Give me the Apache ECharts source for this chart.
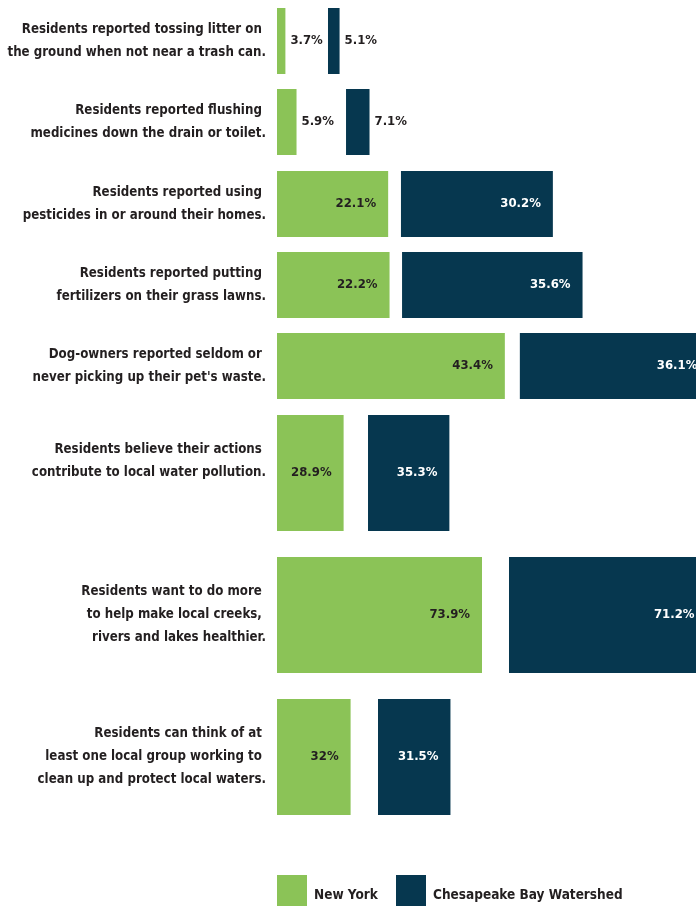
<!DOCTYPE html>
<html>
<head>
<meta charset="utf-8">
<script src="https://cdn.jsdelivr.net/npm/echarts@6/dist/echarts.min.js"></script>
<style>
  html, body { margin: 0; padding: 0; background: #ffffff; }
  #chart { width: 696px; height: 906px; }
</style>
</head>
<body>
<div id="chart"></div>
<script>
// ---- data ----
const categories = [
  'Residents reported tossing litter on \nthe ground when not near a trash can.',
  'Residents reported flushing \nmedicines down the drain or toilet.',
  'Residents reported using \npesticides in or around their homes.',
  'Residents reported putting \nfertilizers on their grass lawns.',
  'Dog-owners reported seldom or \nnever picking up their pet\'s waste.',
  'Residents believe their actions \ncontribute to local water pollution.\n ',
  'Residents want to do more \nto help make local creeks, \nrivers and lakes healthier.',
  'Residents can think of at \nleast one local group working to \nclean up and protect local waters.'
];
const newYork = [3.7, 5.9, 22.1, 22.2, 43.4, 28.9, 73.9, 32];
const chesapeake = [5.1, 7.1, 30.2, 35.6, 36.1, 35.3, 71.2, 31.5];
const seriesNames = ['New York', 'Chesapeake Bay Watershed'];

// ---- layout (per-row scale of the original infographic) ----
const rowTop = [8, 89, 171, 252, 333, 415, 557, 699];
const rowHeight = [66, 66, 66, 66, 66, 116, 116, 116];
const rowPxPerPct = [2.27, 3.31, 5.03, 5.07, 5.25, 2.305, 2.774, 2.30];
const rowGapPx = [42.6, 49.5, 12.8, 12.5, 15, 24.4, 27, 27.4];

const GREEN = '#8bc357';
const NAVY = '#06374f';
const INK = '#231f20';
const FONT = "'Liberation Sans Narrow', 'DejaVu Sans Condensed', sans-serif";
const GRID_LEFT = 277;
const GRID_WIDTH = 440;

const grids = [], xAxes = [], yAxes = [], series = [];

function valueLabel(pxWidth, insideColor) {
  const outside = pxWidth < 40;
  return {
    show: true,
    position: outside ? 'right' : 'insideRight',
    distance: outside ? 5 : 12,
    formatter: p => p.value + '%',
    color: outside ? INK : insideColor,
    fontFamily: FONT,
    fontWeight: 'bold',
    fontSize: 13
  };
}

categories.forEach((cat, i) => {
  const s = rowPxPerPct[i];
  grids.push({ left: GRID_LEFT, top: rowTop[i], width: GRID_WIDTH, height: rowHeight[i],
    containLabel: false, outerBoundsMode: 'none' });
  xAxes.push({ type: 'value', gridIndex: i, min: 0, max: GRID_WIDTH / s, show: false });
  yAxes.push({
    type: 'category', gridIndex: i, data: [cat],
    axisLine: { show: false }, axisTick: { show: false }, splitLine: { show: false },
    axisLabel: {
      margin: 11, align: 'right', color: INK, fontFamily: FONT, fontWeight: 'bold',
      fontSize: 13.2, lineHeight: 23
    }
  });
  const common = { type: 'bar', xAxisIndex: i, yAxisIndex: i, stack: 'row' + i, barWidth: '100%', silent: true };
  series.push(Object.assign({}, common, {
    name: seriesNames[0], data: [newYork[i]],
    itemStyle: { color: GREEN },
    label: valueLabel(newYork[i] * s, INK)
  }));
  series.push(Object.assign({}, common, {
    name: 'gap', data: [rowGapPx[i] / s],
    itemStyle: { color: 'rgba(0,0,0,0)' },
    label: { show: false }
  }));
  series.push(Object.assign({}, common, {
    name: seriesNames[1], data: [chesapeake[i]],
    itemStyle: { color: NAVY },
    label: valueLabel(chesapeake[i] * s, '#ffffff')
  }));
});

const legendText = { color: INK, fontFamily: FONT, fontWeight: 'bold', fontSize: 13.5, padding: [0, 0, 0, 2] };
const option = {
  animation: false,
  backgroundColor: '#ffffff',
  grid: grids,
  xAxis: xAxes,
  yAxis: yAxes,
  legend: [
    { left: 277, top: 875, padding: 0, itemWidth: 30, itemHeight: 40, icon: 'rect', selectedMode: false,
      data: [seriesNames[0]], textStyle: legendText },
    { left: 396, top: 875, padding: 0, itemWidth: 30, itemHeight: 40, icon: 'rect', selectedMode: false,
      data: [seriesNames[1]], textStyle: legendText }
  ],
  series: series
};

const chart = echarts.init(document.getElementById('chart'), null, { renderer: 'canvas' });
chart.setOption(option);
</script>
</body>
</html>
